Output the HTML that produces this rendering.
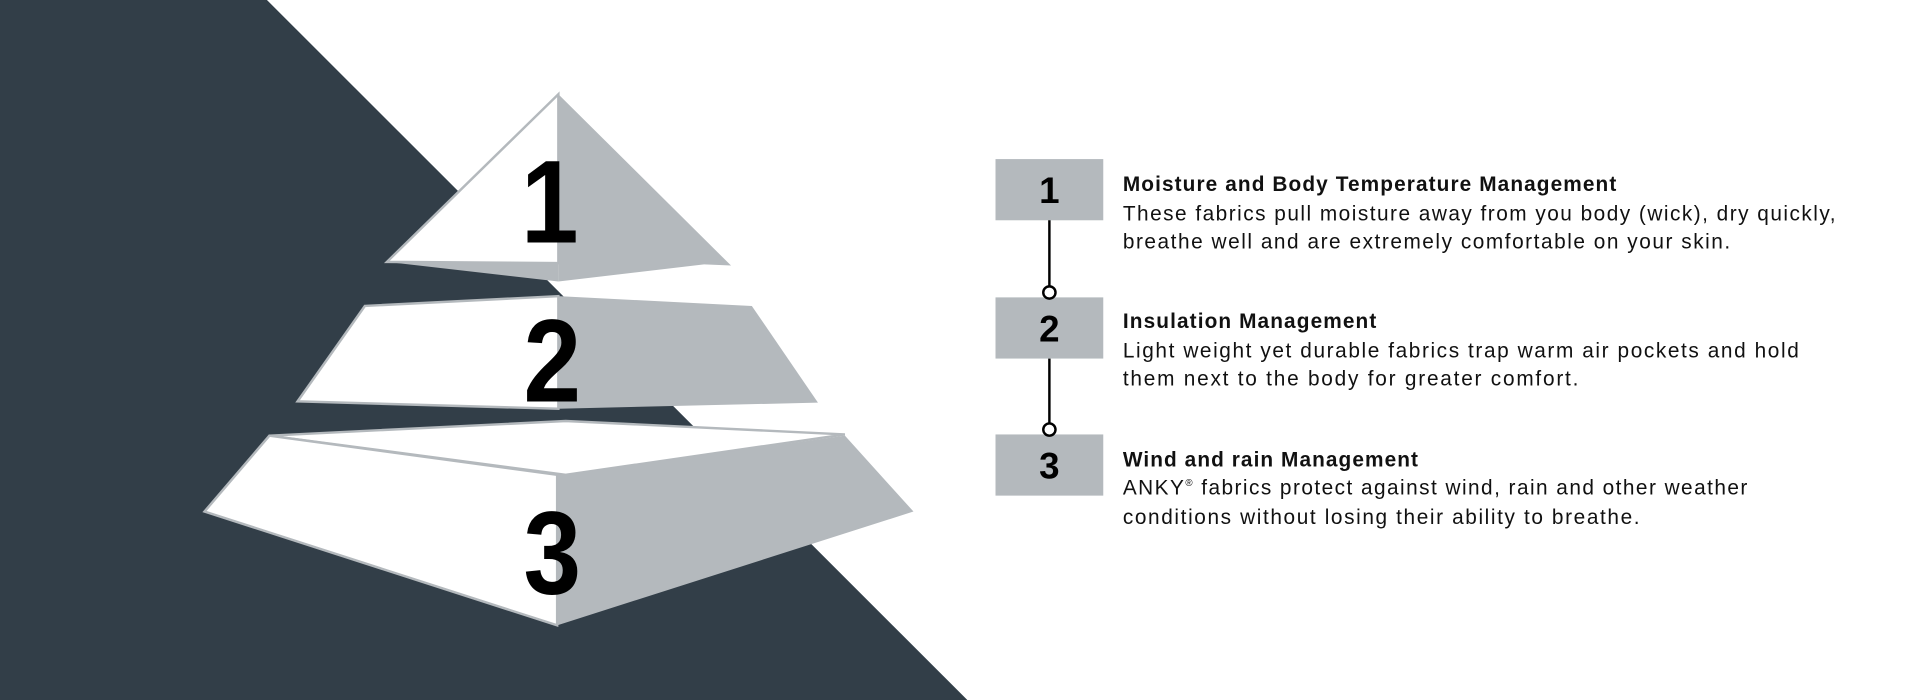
<!DOCTYPE html>
<html><head><meta charset="utf-8"><style>
html,body{margin:0;padding:0;background:#fff;}
svg{display:block;}
text{font-family:"Liberation Sans",Arial,sans-serif;}
</style></head><body>
<svg width="1920" height="700" viewBox="0 0 1568 572" preserveAspectRatio="none" xmlns="http://www.w3.org/2000/svg">
<rect width="1568" height="572" fill="#fff"/>
<polygon points="0,0 218,0 790,572 0,572" fill="#323e48"/>
<!-- tier 1 -->
<polygon points="456,77 316,214 456,215" fill="#fff" stroke="#b4b9bd" stroke-width="2"/>
<polygon points="456,77 597,217 575,216 456,230 456,215" fill="#b4b9bd"/>
<polygon points="316,214 456,230 456,215" fill="#b4b9bd"/>
<!-- tier 2 -->
<polygon points="298,250 456,242 456,334 243,328" fill="#fff" stroke="#b4b9bd" stroke-width="2"/>
<polygon points="456,242 614,250 668,329 456,334" fill="#b4b9bd"/>
<!-- tier 3 -->
<polygon points="220,356 462,344 690,355 462,388" fill="#fff" stroke="#b4b9bd" stroke-width="2"/>
<polygon points="220,356 167,418 455,511 455,388" fill="#fff" stroke="#b4b9bd" stroke-width="2"/>
<polygon points="462,388 690,356 746,418 455,511 455,388" fill="#b4b9bd"/>
<g font-weight="bold" font-size="96" fill="#000" text-anchor="middle">
<text transform="translate(449,198) scale(0.88,1)">1</text>
<text transform="translate(451,328) scale(0.88,1)">2</text>
<text transform="translate(451,485) scale(0.88,1)">3</text>
</g>
<!-- right list -->
<rect x="813" y="130" width="88" height="50" fill="#b4b9bd"/>
<rect x="813" y="243" width="88" height="50" fill="#b4b9bd"/>
<rect x="813" y="355" width="88" height="50" fill="#b4b9bd"/>
<g font-weight="bold" font-size="30" fill="#000" text-anchor="middle">
<text x="857" y="166">1</text>
<text x="857" y="279">2</text>
<text x="857" y="391">3</text>
</g>
<g stroke="#000" stroke-width="2" fill="#fff">
<line x1="857" y1="180" x2="857" y2="234"/>
<circle cx="857" cy="239" r="5"/>
<line x1="857" y1="293" x2="857" y2="346"/>
<circle cx="857" cy="351" r="5"/>
</g>
<g font-size="17" fill="#111">
<text x="917" y="156" font-weight="bold" textLength="403">Moisture and Body Temperature Management</text>
<text x="917" y="180" textLength="582">These fabrics pull moisture away from you body (wick), dry quickly,</text>
<text x="917" y="203" textLength="496">breathe well and are extremely comfortable on your skin.</text>
<text x="917" y="268" font-weight="bold" textLength="207">Insulation Management</text>
<text x="917" y="292" textLength="552">Light weight yet durable fabrics trap warm air pockets and hold</text>
<text x="917" y="315" textLength="372">them next to the body for greater comfort.</text>
<text x="917" y="381" font-weight="bold" textLength="241">Wind and rain Management</text>
<text x="917" y="404" textLength="510">ANKY<tspan font-size="8" dy="-7">®</tspan><tspan dy="7"> fabrics protect against wind, rain and other weather</tspan></text>
<text x="917" y="428" textLength="422">conditions without losing their ability to breathe.</text>
</g>
</svg>
</body></html>
